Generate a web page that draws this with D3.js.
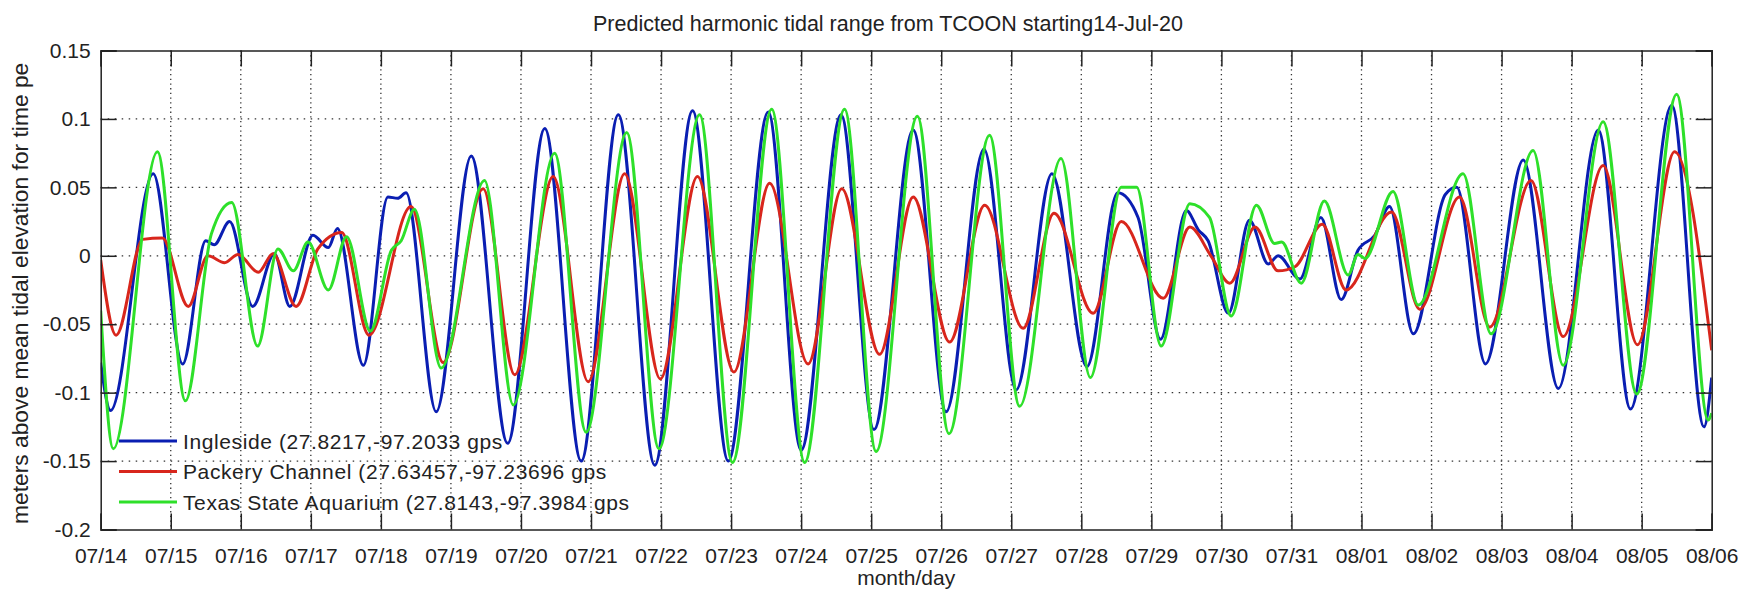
<!DOCTYPE html>
<html>
<head>
<meta charset="utf-8">
<script src="https://cdn.jsdelivr.net/npm/d3@7"></script>
<style>
  body { margin: 0; background: #fff; }
  text { font-family: "Liberation Sans", Arial, sans-serif; fill: #222; }
</style>
</head>
<body>
<script>
// tick labels, one per day starting 07/14
const dayLabels = ["07/14","07/15","07/16","07/17","07/18","07/19","07/20","07/21","07/22","07/23","07/24","07/25",
  "07/26","07/27","07/28","07/29","07/30","07/31","08/01","08/02","08/03","08/04","08/05","08/06"];
const yTicks = [0.15, 0.1, 0.05, 0, -0.05, -0.1, -0.15, -0.2];
const yTickLabels = ["0.15","0.1","0.05","0","-0.05","-0.1","-0.15","-0.2"];

// [days since 07/14, meters]
const ingleside = [[0,-0.078],[0.14,-0.113],[0.75,0.060],[1.17,-0.079],[1.50,0.011],[1.62,0.008],[1.84,0.025],
  [2.17,-0.037],[2.48,0.0015],[2.70,-0.037],[3.03,0.015],[3.25,0.006],[3.38,0.020],[3.75,-0.080],
  [4.10,0.043],[4.24,0.042],[4.36,0.046],[4.79,-0.114],[5.29,0.073],[5.81,-0.137],[6.34,0.093],[6.86,-0.150],
  [7.39,0.103],[7.91,-0.153],[8.45,0.106],[8.96,-0.150],[9.53,0.105],[10.00,-0.142],[10.57,0.103],[11.04,-0.127],
  [11.60,0.092],[12.07,-0.114],[12.61,0.078],[13.07,-0.098],[13.58,0.060],[14.08,-0.081],[14.52,0.046],[14.81,0.028],
  [15.13,-0.061],[15.50,0.033],[15.67,0.019],[15.81,0.011],[16.10,-0.042],[16.40,0.026],[16.67,-0.006],[16.81,0.000],
  [17.12,-0.017],[17.42,0.028],[17.71,-0.032],[17.95,0.004],[18.19,0.015],[18.40,0.036],[18.74,-0.057],
  [19.20,0.045],[19.36,0.050],[19.77,-0.079],[20.31,0.070],[20.81,-0.097],[21.38,0.092],[21.84,-0.112],
  [22.43,0.110],[22.89,-0.125],[23.0,-0.089]];

const packery = [[0,-0.003],[0.22,-0.058],[0.60,0.012],[0.88,0.013],[1.25,-0.037],[1.53,0.000],[1.77,-0.005],
  [1.96,0.001],[2.25,-0.012],[2.46,0.0015],[2.79,-0.037],[3.10,0.005],[3.44,0.017],[3.83,-0.058],[4.43,0.036],
  [4.89,-0.078],[5.46,0.049],[5.91,-0.087],[6.46,0.058],[6.96,-0.092],[7.48,0.060],[7.99,-0.090],[8.52,0.058],
  [9.04,-0.085],[9.55,0.053],[10.10,-0.079],[10.58,0.049],[11.12,-0.072],[11.60,0.043],[12.12,-0.063],[12.62,0.037],
  [13.17,-0.053],[13.61,0.031],[14.17,-0.042],[14.57,0.025],[15.17,-0.031],[15.55,0.021],[15.85,0.000],[16.12,-0.020],
  [16.48,0.021],[16.81,-0.011],[17.05,-0.008],[17.44,0.023],[17.78,-0.025],[18.43,0.032],[18.83,-0.039],
  [19.40,0.043],[19.83,-0.052],[20.42,0.055],[20.88,-0.059],[21.45,0.066],[21.94,-0.065],[22.47,0.076],[23.0,-0.069]];

const aquarium = [[0,-0.040],[0.18,-0.141],[0.81,0.076],[1.21,-0.106],[1.58,0.016],[1.87,0.039],[2.24,-0.066],
  [2.53,0.005],[2.75,-0.011],[2.96,0.010],[3.25,-0.025],[3.51,0.014],[3.85,-0.055],[4.15,0.004],[4.29,0.011],
  [4.48,0.034],[4.86,-0.082],[5.48,0.055],[5.89,-0.109],[6.48,0.075],[6.93,-0.129],[7.51,0.090],[7.97,-0.141],
  [8.55,0.103],[9.02,-0.151],[9.58,0.107],[10.05,-0.151],[10.62,0.107],[11.07,-0.143],[11.66,0.102],[12.11,-0.130],
  [12.69,0.088],[13.12,-0.110],[13.71,0.071],[14.13,-0.089],[14.57,0.050],[14.79,0.050],[15.14,-0.066],
  [15.55,0.038],[15.83,0.028],[16.14,-0.044],[16.50,0.037],[16.76,0.009],[16.86,0.010],[17.14,-0.020],
  [17.47,0.040],[17.81,-0.014],[17.95,0.001],[18.05,-0.002],[18.45,0.047],[18.81,-0.036],[19.45,0.060],
  [19.85,-0.057],[20.45,0.077],[20.88,-0.080],[21.45,0.098],[21.93,-0.101],[22.50,0.118],[22.95,-0.120],[23.0,-0.115]];

const seriesNames = ["Ingleside (27.8217,-97.2033 gps", "Packery Channel (27.63457,-97.23696 gps", "Texas State Aquarium (27.8143,-97.3984 gps"];
const seriesColors = ["#0a1eb2", "#d8261c", "#2ee02a"];

const width = 1746, height = 592;
const pLeft = 100.7, pRight = 1711.7, pTop = 50.5, pBottom = 529.5;

const svg = d3.select("body").append("svg").attr("width", width).attr("height", height);

const x = d3.scaleLinear().domain([0, dayLabels.length - 1]).range([pLeft, pRight]);
const y = d3.scaleLinear().domain([-0.2, 0.15]).range([pBottom, pTop]);

// dotted grid
const grid = svg.append("g").attr("stroke", "#333").attr("stroke-width", 1.3);
grid.selectAll(".vg").data(d3.range(1, dayLabels.length - 1)).enter().append("line")
  .attr("x1", d => x(d)).attr("x2", d => x(d)).attr("y1", pTop).attr("y2", pBottom)
  .attr("stroke-dasharray", "1.3,3.4");
grid.selectAll(".hg").data(yTicks.slice(1, -1)).enter().append("line")
  .attr("x1", pLeft).attr("x2", pRight).attr("y1", d => y(d)).attr("y2", d => y(d))
  .attr("stroke-dasharray", "1.5,5.5");

// lines
svg.append("clipPath").attr("id", "clip").append("rect")
  .attr("x", pLeft).attr("y", pTop).attr("width", pRight - pLeft).attr("height", pBottom - pTop);
const line = d3.line().x(d => x(d[0])).y(d => y(d[1])).curve(d3.curveMonotoneX);
const plot = svg.append("g").attr("clip-path", "url(#clip)");
[ingleside, packery, aquarium].forEach((s, i) => {
  plot.append("path").attr("d", line(s)).attr("fill", "none")
    .attr("stroke", seriesColors[i]).attr("stroke-width", 3).attr("stroke-linejoin", "round");
});

// axes, ticks inward on all sides
const tl = 16;
const xAx = d3.axisBottom(x).tickValues(d3.range(dayLabels.length)).tickFormat(i => dayLabels[i]).tickSize(-tl).tickPadding(tl + 6);
const yAx = d3.axisLeft(y).tickValues(yTicks).tickFormat((d, i) => yTickLabels[i]).tickSize(-tl).tickPadding(10);
const gx = svg.append("g").attr("transform", `translate(0,${pBottom})`).call(xAx);
const gy = svg.append("g").attr("transform", `translate(${pLeft},0)`).call(yAx);
svg.append("g").attr("transform", `translate(0,${pTop})`)
  .call(d3.axisTop(x).tickValues(d3.range(dayLabels.length)).tickFormat("").tickSize(-tl));
svg.append("g").attr("transform", `translate(${pRight},0)`)
  .call(d3.axisRight(y).tickValues(yTicks).tickFormat("").tickSize(-tl));
svg.selectAll(".domain").attr("stroke", "#222").attr("stroke-width", 1.5);
svg.selectAll(".tick line").attr("stroke", "#222").attr("stroke-width", 1.5);
svg.selectAll(".tick text").attr("font-size", 21).attr("fill", "#222")
  .style("font-family", "'Liberation Sans', Arial, sans-serif");
gx.selectAll(".tick text").attr("dy", "0.55em");

// legend
const leg = svg.append("g");
seriesNames.forEach((n, i) => {
  const ly = 441 + i * 30.5;
  leg.append("line").attr("x1", 119).attr("x2", 177).attr("y1", ly).attr("y2", ly)
    .attr("stroke", seriesColors[i]).attr("stroke-width", 3);
  leg.append("text").attr("x", 183).attr("y", ly).attr("dy", "0.36em")
    .attr("font-size", 21).attr("letter-spacing", 0.6).text(n);
});

// labels
svg.append("text").attr("x", 593).attr("y", 31).attr("font-size", 21.5).text("Predicted harmonic tidal range from TCOON starting14-Jul-20");
svg.append("text").attr("x", (pLeft + pRight) / 2).attr("y", 585).attr("text-anchor", "middle").attr("font-size", 21).text("month/day");
svg.append("text").attr("transform", "translate(28,524) rotate(-90)").attr("font-size", 22.8)
  .text("meters above mean tidal elevation for time pe");
</script>
</body>
</html>
